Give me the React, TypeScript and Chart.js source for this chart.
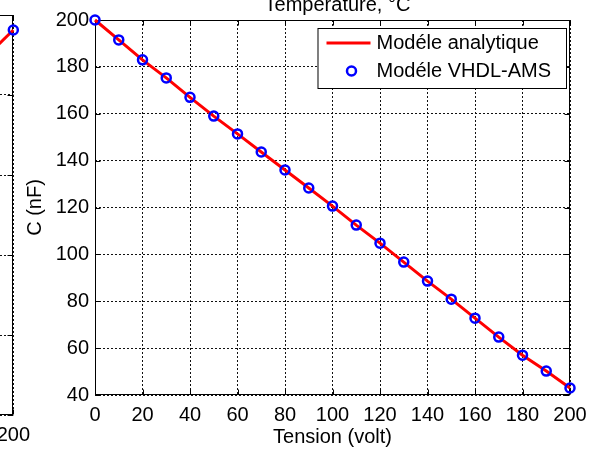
import React, { useEffect, useRef } from "react";
import { Chart, registerables } from "chart.js";

Chart.register(...registerables);

// ---- data ----
const voltage = [0, 10, 20, 30, 40, 50, 60, 70, 80, 90, 100, 110, 120, 130, 140, 150, 160, 170, 180, 190, 200];
const analyticC = [200, 191.5, 183, 175.3, 167, 159, 151.4, 143.7, 136, 128.3, 120.6, 112.5, 104.8, 96.7, 88.6, 80.9, 72.8, 64.7, 57, 50.2, 43];
const vhdlC = [200, 191.5, 183, 175.3, 167, 159, 151.4, 143.7, 136, 128.3, 120.6, 112.5, 104.8, 96.7, 88.6, 80.9, 72.8, 64.7, 57, 50.2, 43];
const seriesLabels = ["Modéle analytique", "Modéle VHDL-AMS"];
const xTitle = "Tension (volt)";
const yTitle = "C (nF)";
const topText = "Température, °C";

// partially visible neighbouring plot (only its right edge is in view)
const leftX = [190, 200];
const leftY = [226.5, 240.6];

const FONT = "'Liberation Sans', Arial, Helvetica, sans-serif";
const RED = "#ff0000";
const BLUE = "#0000ff";

const boxPlugin = {
  id: "matlabBox",
  beforeDatasetsDraw(chart: any) {
    const { ctx, chartArea: a, scales } = chart;
    ctx.save();
    ctx.strokeStyle = "#000";
    ctx.lineWidth = 1;
    ctx.setLineDash([]);
    const L = Math.round(a.left) + 0.5;
    const R = Math.round(a.right) - 0.5;
    const T = Math.round(a.top) + 0.5;
    const B = Math.round(a.bottom) - 0.5;
    ctx.strokeRect(L, T, R - L, B - T);
    const len = 5;
    ctx.beginPath();
    scales.x.ticks.forEach((t: any) => {
      const px = Math.round(scales.x.getPixelForValue(t.value)) + 0.5;
      ctx.moveTo(px, B);
      ctx.lineTo(px, B - len);
      ctx.moveTo(px, T);
      ctx.lineTo(px, T + len);
    });
    scales.y.ticks.forEach((t: any) => {
      const py = Math.round(scales.y.getPixelForValue(t.value)) + 0.5;
      ctx.moveTo(L, py);
      ctx.lineTo(L + len, py);
      ctx.moveTo(R, py);
      ctx.lineTo(R - len, py);
    });
    ctx.stroke();
    ctx.restore();
  },
};

const legendPlugin = {
  id: "matlabLegend",
  afterDatasetsDraw(chart: any) {
    const { ctx, chartArea: a } = chart;
    const ds = chart.data.datasets;
    ctx.save();
    ctx.font = `20px ${FONT}`;
    const maxW = Math.max(...ds.map((d: any) => ctx.measureText(d.label).width));
    const w = 59 + maxW + 15;
    const h = 60;
    const right = Math.round(a.right) - 4;
    const left = right - w;
    const top = Math.round(a.top) + 8;
    ctx.fillStyle = "#fff";
    ctx.fillRect(left, top, w, h);
    ctx.strokeStyle = "#000";
    ctx.lineWidth = 1;
    ctx.strokeRect(left + 0.5, top + 0.5, w, h);
    const rows = [top + 15, top + 43];
    ds.forEach((d: any, i: number) => {
      const y = rows[i];
      if (d.showLine === false) {
        ctx.beginPath();
        ctx.arc(left + 34, y, d.pointRadius, 0, Math.PI * 2);
        ctx.strokeStyle = d.pointBorderColor;
        ctx.lineWidth = d.pointBorderWidth;
        ctx.stroke();
      } else {
        ctx.beginPath();
        ctx.moveTo(left + 9, y);
        ctx.lineTo(left + 53, y);
        ctx.strokeStyle = d.borderColor;
        ctx.lineWidth = d.borderWidth;
        ctx.stroke();
      }
      ctx.fillStyle = "#000";
      ctx.textAlign = "left";
      ctx.textBaseline = "middle";
      ctx.fillText(d.label, left + 59, y);
    });
    ctx.restore();
  },
};

const topTextPlugin = {
  id: "topText",
  afterDraw(chart: any) {
    const { ctx, chartArea: a } = chart;
    ctx.save();
    ctx.font = `20px ${FONT}`;
    ctx.fillStyle = "#000";
    ctx.textAlign = "center";
    ctx.textBaseline = "alphabetic";
    ctx.fillText(topText, (a.left + a.right) / 2 + 5, 11);
    ctx.restore();
  },
};

export default function App() {
  const mainRef = useRef<HTMLCanvasElement | null>(null);
  const leftRef = useRef<HTMLCanvasElement | null>(null);

  useEffect(() => {
    const mainCanvas = mainRef.current!;
    const leftCanvas = leftRef.current!;

    const tickFont = { family: FONT, size: 20 };

    const main = new Chart(mainCanvas, {
      type: "line",
      data: {
        datasets: [
          {
            label: seriesLabels[0],
            data: voltage.map((v, i) => ({ x: v, y: analyticC[i] })),
            borderColor: RED,
            backgroundColor: RED,
            borderWidth: 3,
            pointRadius: 0,
            tension: 0,
            order: 1,
            clip: false,
          } as any,
          {
            label: seriesLabels[1],
            data: voltage.map((v, i) => ({ x: v, y: vhdlC[i] })),
            showLine: false,
            borderColor: BLUE,
            backgroundColor: "rgba(0,0,0,0)",
            pointBorderColor: BLUE,
            pointBackgroundColor: "rgba(0,0,0,0)",
            pointRadius: 4.5,
            pointBorderWidth: 2.5,
            order: 0,
            clip: false,
          } as any,
        ],
      },
      options: {
        responsive: false,
        maintainAspectRatio: false,
        animation: false,
        devicePixelRatio: 1,
        layout: { padding: { left: 0, right: 26, top: 20, bottom: 0 } },
        plugins: { legend: { display: false }, tooltip: { enabled: false }, title: { display: false } },
        scales: {
          x: {
            type: "linear",
            min: 0,
            max: 200,
            ticks: { stepSize: 20, color: "#000", font: tickFont, padding: 8, maxRotation: 0 },
            grid: { color: "#111", lineWidth: 1, drawTicks: false },
            border: { display: false, dash: [2, 2] },
            title: { display: true, text: xTitle, color: "#000", font: tickFont, padding: { top: 0, bottom: 0 } },
            afterFit: (s: any) => {
              s.height = 54;
            },
          },
          y: {
            type: "linear",
            min: 40,
            max: 200,
            ticks: { stepSize: 20, color: "#000", font: tickFont, padding: 6 },
            grid: { color: "#111", lineWidth: 1, drawTicks: false },
            border: { display: false, dash: [2, 2] },
            title: { display: true, text: yTitle, color: "#000", font: tickFont, padding: { top: 23, bottom: 0 } },
            afterFit: (s: any) => {
              s.width = 95;
            },
          },
        },
      } as any,
      plugins: [boxPlugin, legendPlugin, topTextPlugin],
    });

    const left = new Chart(leftCanvas, {
      type: "line",
      data: {
        datasets: [
          {
            label: "left-line",
            data: leftX.map((v, i) => ({ x: v, y: leftY[i] })),
            borderColor: RED,
            borderWidth: 3,
            pointRadius: 0,
            order: 1,
            clip: false,
          } as any,
          {
            label: "left-points",
            data: leftX.map((v, i) => ({ x: v, y: leftY[i] })),
            showLine: false,
            pointBorderColor: BLUE,
            pointBackgroundColor: "rgba(0,0,0,0)",
            pointRadius: 4.5,
            pointBorderWidth: 2.5,
            order: 0,
            clip: false,
          } as any,
        ],
      },
      options: {
        responsive: false,
        maintainAspectRatio: false,
        animation: false,
        devicePixelRatio: 1,
        layout: { padding: { left: 0, right: 20, top: 15, bottom: 0 } },
        plugins: { legend: { display: false }, tooltip: { enabled: false } },
        scales: {
          x: {
            type: "linear",
            min: 0,
            max: 200,
            ticks: { stepSize: 20, color: "#000", font: tickFont, padding: 8, maxRotation: 0 },
            grid: { color: "#111", lineWidth: 1, drawTicks: false },
            border: { display: false, dash: [2, 2] },
            afterFit: (s: any) => {
              s.height = 34;
            },
          },
          y: {
            type: "linear",
            min: 0,
            max: 250,
            ticks: { stepSize: 50, display: false },
            grid: { color: "#111", lineWidth: 1, drawTicks: false },
            border: { display: false, dash: [2, 2] },
            afterFit: (s: any) => {
              s.width = 0;
            },
          },
        },
      } as any,
      plugins: [boxPlugin],
    });
    leftCanvas.style.left = `${13 - Math.round(left.chartArea.right)}px`;

    return () => {
      main.destroy();
      left.destroy();
    };
  }, []);

  return (
    <div
      style={{
        position: "fixed",
        left: 0,
        top: 0,
        width: 596,
        height: 449,
        overflow: "hidden",
        background: "#fff",
      }}
    >
      <canvas ref={leftRef} width={500} height={449} style={{ position: "absolute", top: 0, left: -487 }} />
      <canvas ref={mainRef} width={596} height={449} style={{ position: "absolute", top: 0, left: 0 }} />
    </div>
  );
}
